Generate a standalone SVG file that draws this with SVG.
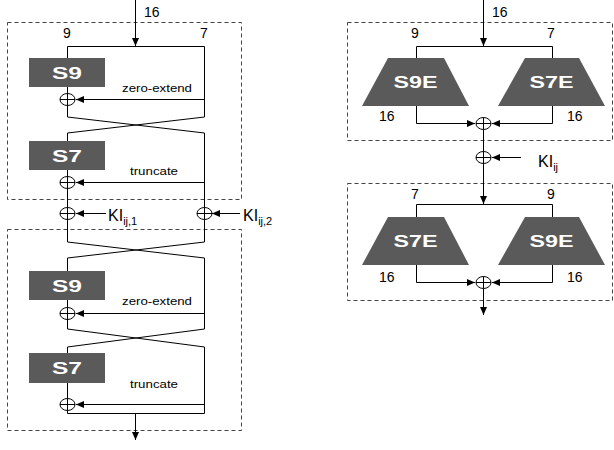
<svg xmlns="http://www.w3.org/2000/svg" width="614" height="450" viewBox="0 0 614 450">
<defs>
<marker id="ah" viewBox="0 0 8 8" refX="8" refY="4" markerWidth="8" markerHeight="8" markerUnits="userSpaceOnUse" orient="auto">
<path d="M0,0.5 L8,4 L0,7.5 Z" fill="#000"/>
</marker>
<style>
.ln{stroke:#000;stroke-width:1;fill:none}
.ar{stroke:#000;stroke-width:1;fill:none;marker-end:url(#ah)}
.dash{stroke:#444;stroke-width:1;fill:none;stroke-dasharray:4,3}
.box{fill:#5a5a5a}
.bt{font-family:"Liberation Sans",Arial,sans-serif;font-weight:bold;font-size:16px;fill:#fff;text-anchor:middle}
.num{font-family:"Liberation Sans",Arial,sans-serif;font-size:14px;fill:#000}
.sm{font-family:"Liberation Sans",Arial,sans-serif;font-size:10.5px;fill:#000}
.ki{font-family:"Liberation Sans",Arial,sans-serif;font-size:16px;fill:#000}
.sub{font-size:11px}
.xor{stroke:#000;stroke-width:1;fill:#fff}
</style>
</defs>

<g id="frames">
<rect class="dash" x="7.5" y="22.5" width="234" height="177"/>
<rect class="dash" x="7.5" y="229.5" width="234" height="201"/>
<rect class="dash" x="347.5" y="22.5" width="265" height="118"/>
<rect class="dash" x="347.5" y="183.5" width="265" height="117"/>
</g>

<g id="connectors">
<line class="ar" x1="135.5" y1="0" x2="135.5" y2="46"/>
<polyline class="ln" points="67.5,58 67.5,46.5 204.5,46.5 204.5,117 67.5,133 67.5,141"/>
<polyline class="ln" points="67.5,87 67.5,117 204.5,133 204.5,242 67.5,258 67.5,271"/>
<polyline class="ln" points="67.5,170 67.5,242 204.5,258 204.5,329 67.5,347 67.5,353"/>
<polyline class="ln" points="67.5,300 67.5,329 204.5,347 204.5,413.5 67.5,413.5 67.5,383"/>
<line class="ar" x1="204.5" y1="99.5" x2="76" y2="99.5"/>
<line class="ar" x1="204.5" y1="182.5" x2="76" y2="182.5"/>
<line class="ar" x1="106" y1="213.5" x2="76" y2="213.5"/>
<line class="ar" x1="240" y1="213.5" x2="212" y2="213.5"/>
<line class="ar" x1="204.5" y1="313.5" x2="76" y2="313.5"/>
<line class="ar" x1="204.5" y1="404.5" x2="76" y2="404.5"/>
<line class="ar" x1="135.5" y1="413.5" x2="135.5" y2="440"/>
<line class="ar" x1="483.5" y1="0" x2="483.5" y2="46"/>
<polyline class="ln" points="416.5,58 416.5,46.5 552.5,46.5 552.5,58"/>
<polyline class="ar" points="416.5,106 416.5,123.5 475,123.5"/>
<polyline class="ar" points="552.5,106 552.5,123.5 492,123.5"/>
<line class="ar" x1="483.5" y1="130" x2="483.5" y2="204"/>
<line class="ar" x1="521" y1="157.5" x2="492" y2="157.5"/>
<polyline class="ln" points="416.5,217 416.5,204.5 552.5,204.5 552.5,217"/>
<polyline class="ar" points="416.5,265 416.5,282.5 475,282.5"/>
<polyline class="ar" points="552.5,265 552.5,282.5 492,282.5"/>
<line class="ar" x1="483.5" y1="289" x2="483.5" y2="315"/>
</g>

<g id="xors">
<g id="xor1"><ellipse class="xor" cx="67.5" cy="99.5" rx="7.5" ry="6"/><path class="ln" d="M60,99.5H75M67.5,93.5V105.5"/></g>
<g id="xor2"><ellipse class="xor" cx="67.5" cy="182.5" rx="7.5" ry="6"/><path class="ln" d="M60,182.5H75M67.5,176.5V188.5"/></g>
<g id="xor3"><ellipse class="xor" cx="67.5" cy="213.5" rx="7.5" ry="6"/><path class="ln" d="M60,213.5H75M67.5,207.5V219.5"/></g>
<g id="xor4"><ellipse class="xor" cx="204.5" cy="213.5" rx="7.5" ry="6"/><path class="ln" d="M197,213.5H212M204.5,207.5V219.5"/></g>
<g id="xor5"><ellipse class="xor" cx="67.5" cy="313.5" rx="7.5" ry="6"/><path class="ln" d="M60,313.5H75M67.5,307.5V319.5"/></g>
<g id="xor6"><ellipse class="xor" cx="67.5" cy="404.5" rx="7.5" ry="6"/><path class="ln" d="M60,404.5H75M67.5,398.5V410.5"/></g>
<g id="xor7"><ellipse class="xor" cx="483.5" cy="123.5" rx="7.5" ry="6"/><path class="ln" d="M476,123.5H491M483.5,117.5V129.5"/></g>
<g id="xor8"><ellipse class="xor" cx="483.5" cy="157.5" rx="7.5" ry="6"/><path class="ln" d="M476,157.5H491M483.5,151.5V163.5"/></g>
<g id="xor9"><ellipse class="xor" cx="483.5" cy="282.5" rx="7.5" ry="6"/><path class="ln" d="M476,282.5H491M483.5,276.5V288.5"/></g>
</g>

<g id="s9a"><rect class="box" x="29" y="58" width="76" height="29"/><text class="bt" x="67" y="78.5" textLength="30" lengthAdjust="spacingAndGlyphs">S9</text></g>
<g id="s7a"><rect class="box" x="29" y="141" width="76" height="29"/><text class="bt" x="67" y="161.5" textLength="30" lengthAdjust="spacingAndGlyphs">S7</text></g>
<g id="s9b"><rect class="box" x="29" y="271" width="76" height="29"/><text class="bt" x="67" y="291.5" textLength="30" lengthAdjust="spacingAndGlyphs">S9</text></g>
<g id="s7b"><rect class="box" x="29" y="353" width="76" height="30"/><text class="bt" x="67" y="374" textLength="30" lengthAdjust="spacingAndGlyphs">S7</text></g>

<g id="s9e1"><polygon class="box" points="388,58 444,58 469,106 362,106"/><text class="bt" x="415.5" y="88" textLength="44" lengthAdjust="spacingAndGlyphs">S9E</text></g>
<g id="s7e1"><polygon class="box" points="525,58 579,58 605,106 498,106"/><text class="bt" x="551.5" y="88" textLength="44" lengthAdjust="spacingAndGlyphs">S7E</text></g>
<g id="s7e2"><polygon class="box" points="388,217 444,217 469,265 362,265"/><text class="bt" x="415.5" y="247" textLength="44" lengthAdjust="spacingAndGlyphs">S7E</text></g>
<g id="s9e2"><polygon class="box" points="525,217 579,217 605,265 498,265"/><text class="bt" x="551.5" y="247" textLength="44" lengthAdjust="spacingAndGlyphs">S9E</text></g>

<g id="labels">
<text class="num" x="144" y="17">16</text>
<text class="num" x="67" y="38" text-anchor="middle">9</text>
<text class="num" x="204" y="38" text-anchor="middle">7</text>
<text class="sm" x="122" y="92" textLength="70" lengthAdjust="spacingAndGlyphs">zero-extend</text>
<text class="sm" x="130" y="175" textLength="48" lengthAdjust="spacingAndGlyphs">truncate</text>
<text class="sm" x="122" y="305" textLength="70" lengthAdjust="spacingAndGlyphs">zero-extend</text>
<text class="sm" x="130" y="388" textLength="48" lengthAdjust="spacingAndGlyphs">truncate</text>
<text class="ki" x="108" y="221">KI<tspan class="sub" dy="4">ij,1</tspan></text>
<text class="ki" x="243" y="221">KI<tspan class="sub" dy="4">ij,2</tspan></text>
<text class="num" x="492" y="17">16</text>
<text class="num" x="415" y="38" text-anchor="middle">9</text>
<text class="num" x="551" y="38" text-anchor="middle">7</text>
<text class="num" x="379" y="121">16</text>
<text class="num" x="567" y="121">16</text>
<text class="ki" x="538" y="167">KI<tspan class="sub" dy="4">ij</tspan></text>
<text class="num" x="415" y="199" text-anchor="middle">7</text>
<text class="num" x="551" y="199" text-anchor="middle">9</text>
<text class="num" x="379" y="282">16</text>
<text class="num" x="567" y="282">16</text>
</g>
</svg>
